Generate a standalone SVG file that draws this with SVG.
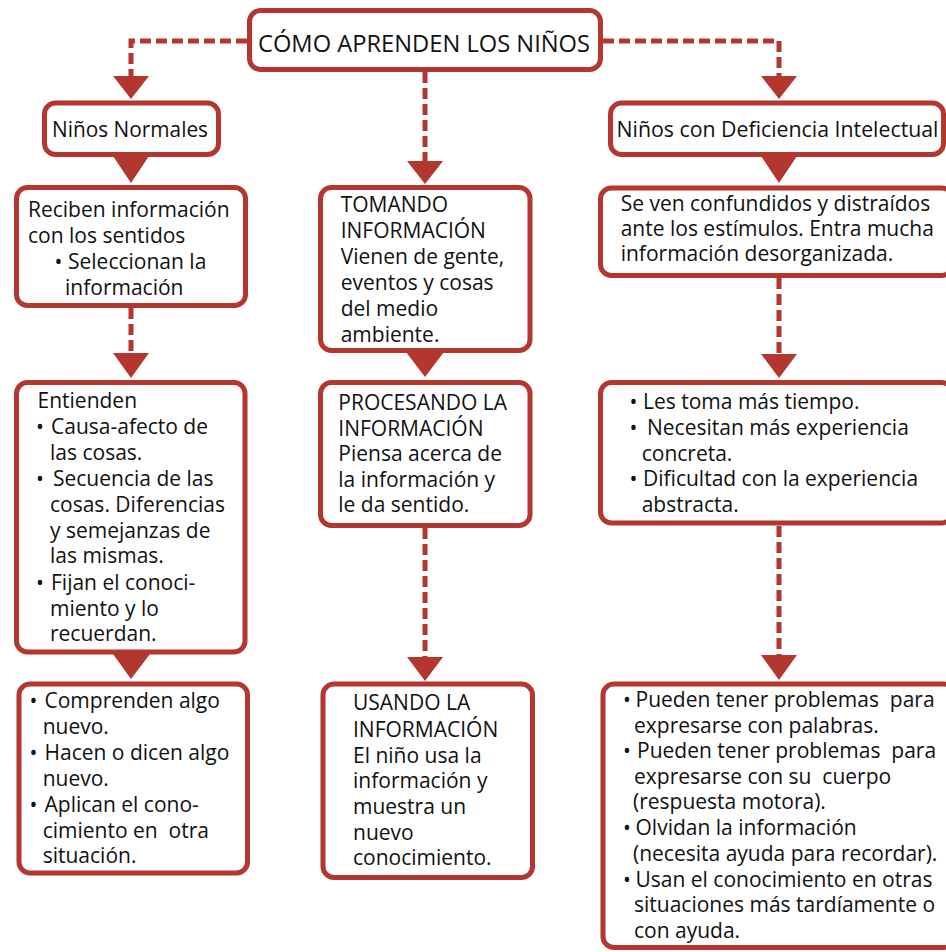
<svg xmlns="http://www.w3.org/2000/svg" width="946" height="952" viewBox="0 0 946 952">
<style>
.box{fill:#fff;stroke:#b3372f;stroke-width:5}
.dash{fill:none;stroke:#b3372f;stroke-width:5;stroke-dasharray:11 5}
.head{fill:#b3372f}
.t{font-family:"Open Sans","Liberation Sans",sans-serif;font-size:21px;fill:#111;white-space:pre}
.title{font-family:"Open Sans","Liberation Sans",sans-serif;font-size:24.5px;fill:#111}
</style>
<rect width="946" height="952" fill="#fff"/>
<g id="connectors">
<path class="dash" d="M247,41 H131 V76"/>
<polygon class="head" points="113,76 149,76 131,99"/>
<path class="dash" d="M425,72 V161"/>
<polygon class="head" points="407,161 443,161 425,184"/>
<path class="dash" d="M603,41 H779 V76"/>
<polygon class="head" points="761,76 797,76 779,99"/>
<polygon class="head" points="113,156 149,156 131,183"/>
<polygon class="head" points="761,156 797,156 779,183"/>
<path class="dash" d="M131,308 V353"/>
<polygon class="head" points="113,353 149,353 131,378"/>
<polygon class="head" points="113,654 150,654 131,679"/>
<polygon class="head" points="406,352 444,352 425,377"/>
<path class="dash" d="M425,528 V657"/>
<polygon class="head" points="407,657 443,657 425,681"/>
<path class="dash" d="M779,278 V354"/>
<polygon class="head" points="761,354 797,354 779,378"/>
<path class="dash" d="M779,526 V655"/>
<polygon class="head" points="761,655 797,655 779,680"/>
</g>
<g id="n-root">
<rect class="box" x="249.5" y="10.5" width="351" height="59" rx="11"/>
<text class="title" x="258" y="52" textLength="332" lengthAdjust="spacingAndGlyphs">CÓMO APRENDEN LOS NIÑOS</text>
</g>
<g id="n-normales">
<rect class="box" x="44.5" y="103" width="174" height="51.5" rx="11"/>
<text class="t" x="52" y="137" textLength="156" lengthAdjust="spacingAndGlyphs">Niños Normales</text>
</g>
<g id="n-deficiencia">
<rect class="box" x="610.5" y="103" width="333" height="51.5" rx="11"/>
<text class="t" x="616.5" y="137" textLength="322" lengthAdjust="spacingAndGlyphs">Niños con Deficiencia Intelectual</text>
</g>
<g id="n-reciben">
<rect class="box" x="16.5" y="187.5" width="229" height="118" rx="11"/>
<text class="t" x="28" y="217">Reciben información</text>
<text class="t" x="28" y="243">con los sentidos</text>
<text class="t" y="269"><tspan x="54.5">•</tspan><tspan x="68">Seleccionan la</tspan></text>
<text class="t" x="65" y="295">información</text>
</g>
<g id="n-entienden">
<rect class="box" x="16.5" y="382.5" width="228.5" height="269.5" rx="11"/>
<text class="t" x="37.5" y="408">Entienden</text>
<text class="t" y="434"><tspan x="36">•</tspan><tspan x="51">Causa-afecto de</tspan></text>
<text class="t" x="50" y="460">las cosas.</text>
<text class="t" y="486"><tspan x="36">•</tspan><tspan x="53">Secuencia de las</tspan></text>
<text class="t" x="50" y="512">cosas. Diferencias</text>
<text class="t" x="50" y="537.5">y semejanzas de</text>
<text class="t" x="50" y="563">las mismas.</text>
<text class="t" y="590"><tspan x="36">•</tspan><tspan x="51">Fijan el conoci-</tspan></text>
<text class="t" x="50" y="616">miento y lo</text>
<text class="t" x="50" y="641">recuerdan.</text>
</g>
<g id="n-comprenden">
<rect class="box" x="19" y="684" width="228.5" height="189" rx="11"/>
<text class="t" y="708"><tspan x="29.5">•</tspan><tspan x="44.5">Comprenden algo</tspan></text>
<text class="t" x="42.7" y="734">nuevo.</text>
<text class="t" y="760"><tspan x="29.5">•</tspan><tspan x="44.5">Hacen o dicen algo</tspan></text>
<text class="t" x="42.7" y="786">nuevo.</text>
<text class="t" y="812"><tspan x="29.5">•</tspan><tspan x="44.5">Aplican el cono-</tspan></text>
<text class="t" x="42.7" y="838">cimiento en  otra</text>
<text class="t" x="42.7" y="863">situación.</text>
</g>
<g id="n-tomando">
<rect class="box" x="320.5" y="187.5" width="209.5" height="163" rx="11"/>
<text class="t" x="340.7" y="211.7">TOMANDO</text>
<text class="t" x="340.7" y="238">INFORMACIÓN</text>
<text class="t" x="340.7" y="264">Vienen de gente,</text>
<text class="t" x="340.7" y="289.5">eventos y cosas</text>
<text class="t" x="340.7" y="316">del medio</text>
<text class="t" x="340.7" y="342">ambiente.</text>
</g>
<g id="n-procesando">
<rect class="box" x="320.5" y="382.5" width="209.5" height="143" rx="11"/>
<text class="t" x="338.3" y="410">PROCESANDO LA</text>
<text class="t" x="338.3" y="435.5">INFORMACIÓN</text>
<text class="t" x="338.3" y="461">Piensa acerca de</text>
<text class="t" x="338.3" y="486.7">la información y</text>
<text class="t" x="338.3" y="511.7">le da sentido.</text>
</g>
<g id="n-usando">
<rect class="box" x="323" y="684" width="209.5" height="193.5" rx="11"/>
<text class="t" x="353" y="710">USANDO LA</text>
<text class="t" x="353" y="736.5">INFORMACIÓN</text>
<text class="t" x="353" y="762.5">El niño usa la</text>
<text class="t" x="353" y="788">información y</text>
<text class="t" x="353" y="814">muestra un</text>
<text class="t" x="353" y="839.5">nuevo</text>
<text class="t" x="353" y="865">conocimiento.</text>
</g>
<g id="n-seven">
<rect class="box" x="600.5" y="188" width="352" height="87.5" rx="11"/>
<text class="t" x="620.7" y="210.7">Se ven confundidos y distraídos</text>
<text class="t" x="620.7" y="235.5">ante los estímulos. Entra mucha</text>
<text class="t" x="620.7" y="260.5">información desorganizada.</text>
</g>
<g id="n-lestoma">
<rect class="box" x="600.5" y="382.5" width="352" height="140.5" rx="11"/>
<text class="t" y="409"><tspan x="629.5">•</tspan><tspan x="643">Les toma más tiempo.</tspan></text>
<text class="t" y="435"><tspan x="629.5">•</tspan><tspan x="647">Necesitan más experiencia</tspan></text>
<text class="t" x="641.7" y="460.7">concreta.</text>
<text class="t" y="486"><tspan x="629.5">•</tspan><tspan x="643">Dificultad con la experiencia</tspan></text>
<text class="t" x="641.7" y="511.7">abstracta.</text>
</g>
<g id="n-pueden">
<rect class="box" x="603" y="684" width="352" height="263.5" rx="11"/>
<text class="t" y="707"><tspan x="623">•</tspan><tspan x="635.5">Pueden tener problemas  para</tspan></text>
<text class="t" x="634" y="732.7">expresarse con palabras.</text>
<text class="t" y="758"><tspan x="623">•</tspan><tspan x="637">Pueden tener problemas  para</tspan></text>
<text class="t" x="634" y="783.5">expresarse con su  cuerpo</text>
<text class="t" x="633" y="809">(respuesta motora).</text>
<text class="t" y="835"><tspan x="623">•</tspan><tspan x="635.5">Olvidan la información</tspan></text>
<text class="t" x="633" y="860.7">(necesita ayuda para recordar).</text>
<text class="t" y="886.7"><tspan x="623">•</tspan><tspan x="635.5">Usan el conocimiento en otras</tspan></text>
<text class="t" x="634" y="912">situaciones más tardíamente o</text>
<text class="t" x="634" y="938">con ayuda.</text>
</g>
</svg>
